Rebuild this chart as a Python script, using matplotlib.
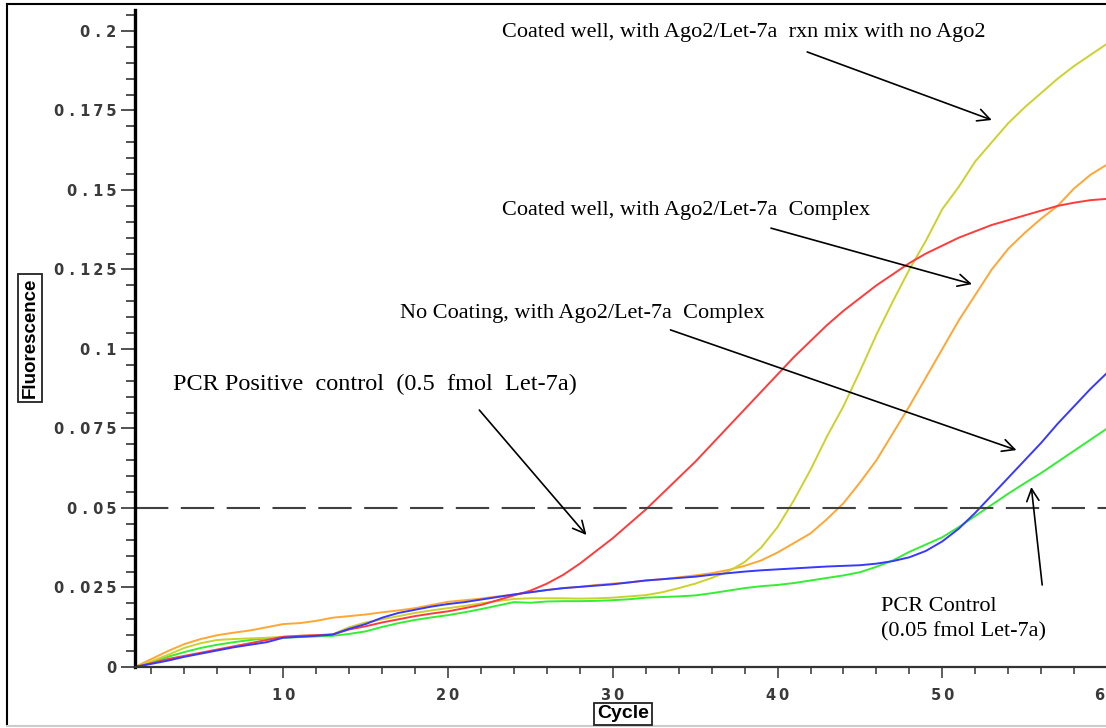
import matplotlib
matplotlib.use("Agg")
import matplotlib.pyplot as plt
from matplotlib.lines import Line2D
from matplotlib.ticker import FixedLocator, FuncFormatter
import numpy as np

cycles = np.arange(1, 61)

# PCR positive control (0.5 fmol Let-7a)
red = [0.0000, 0.0012, 0.0025, 0.0035, 0.0045, 0.0055, 0.0065, 0.0075, 0.0085, 0.0095,
       0.0098, 0.0100, 0.0102, 0.0118, 0.0128, 0.0140, 0.0150, 0.0160, 0.0168, 0.0175,
       0.0185, 0.0195, 0.0210, 0.0225, 0.0240, 0.0262, 0.0290, 0.0325, 0.0365, 0.0405,
       0.0450, 0.0495, 0.0545, 0.0595, 0.0645, 0.0700, 0.0755, 0.0810, 0.0865, 0.0920,
       0.0975, 0.1025, 0.1075, 0.1120, 0.1160, 0.1200, 0.1235, 0.1270, 0.1300, 0.1325,
       0.1350, 0.1370, 0.1390, 0.1405, 0.1420, 0.1435, 0.1450, 0.1460, 0.1468, 0.1472]

# coated well, rxn mix with no Ago2
yellow = [0.0000, 0.0018, 0.0038, 0.0060, 0.0075, 0.0085, 0.0088, 0.0090, 0.0092, 0.0095,
          0.0098, 0.0100, 0.0103, 0.0125, 0.0140, 0.0150, 0.0160, 0.0170, 0.0178, 0.0185,
          0.0192, 0.0200, 0.0207, 0.0214, 0.0216, 0.0216, 0.0216, 0.0215, 0.0216, 0.0218,
          0.0222, 0.0226, 0.0235, 0.0248, 0.0262, 0.0280, 0.0300, 0.0330, 0.0375, 0.0440,
          0.0525, 0.0620, 0.0725, 0.0820, 0.0930, 0.1045, 0.1150, 0.1250, 0.1340, 0.1440,
          0.1510, 0.1590, 0.1650, 0.1710, 0.1760, 0.1805, 0.1850, 0.1890, 0.1925, 0.1960]

# coated well, with Ago2/Let-7a complex
orange = [0.0000, 0.0025, 0.0050, 0.0072, 0.0088, 0.0100, 0.0108, 0.0115, 0.0125, 0.0135,
          0.0138, 0.0145, 0.0155, 0.0160, 0.0165, 0.0172, 0.0178, 0.0185, 0.0195, 0.0205,
          0.0210, 0.0215, 0.0222, 0.0228, 0.0235, 0.0242, 0.0248, 0.0252, 0.0258, 0.0262,
          0.0266, 0.0272, 0.0276, 0.0282, 0.0288, 0.0295, 0.0305, 0.0318, 0.0335, 0.0360,
          0.0390, 0.0420, 0.0465, 0.0515, 0.0580, 0.0650, 0.0735, 0.0820, 0.0910, 0.1000,
          0.1090, 0.1170, 0.1250, 0.1315, 0.1365, 0.1410, 0.1450, 0.1505, 0.1548, 0.1580]

# no coating, with Ago2/Let-7a complex
blue = [0.0000, 0.0010, 0.0020, 0.0032, 0.0042, 0.0052, 0.0062, 0.0070, 0.0078, 0.0092,
        0.0095, 0.0098, 0.0102, 0.0120, 0.0135, 0.0155, 0.0170, 0.0180, 0.0190, 0.0198,
        0.0204, 0.0212, 0.0220, 0.0228, 0.0235, 0.0242, 0.0248, 0.0252, 0.0256, 0.0260,
        0.0266, 0.0272, 0.0276, 0.0280, 0.0284, 0.0290, 0.0295, 0.0300, 0.0304, 0.0307,
        0.0310, 0.0313, 0.0316, 0.0318, 0.0320, 0.0325, 0.0333, 0.0345, 0.0365, 0.0395,
        0.0435, 0.0485, 0.0540, 0.0595, 0.0650, 0.0705, 0.0765, 0.0820, 0.0875, 0.0925]

# PCR control (0.05 fmol Let-7a)
green = [0.0000, 0.0015, 0.0032, 0.0047, 0.0060, 0.0070, 0.0078, 0.0085, 0.0090, 0.0092,
         0.0094, 0.0096, 0.0098, 0.0104, 0.0112, 0.0126, 0.0138, 0.0148, 0.0156, 0.0163,
         0.0172, 0.0182, 0.0193, 0.0204, 0.0202, 0.0206, 0.0207, 0.0207, 0.0208, 0.0210,
         0.0213, 0.0218, 0.0220, 0.0222, 0.0225, 0.0232, 0.0240, 0.0248, 0.0254, 0.0258,
         0.0264, 0.0272, 0.0280, 0.0288, 0.0298, 0.0315, 0.0335, 0.0362, 0.0385, 0.0408,
         0.0440, 0.0475, 0.0510, 0.0545, 0.0578, 0.0610, 0.0645, 0.0680, 0.0715, 0.0750]

threshold = 0.05
y_major = [0, 0.025, 0.05, 0.075, 0.1, 0.125, 0.15, 0.175, 0.2]
x_major = [10, 20, 30, 40, 50, 60]

serif = "Liberation Serif"

fig = plt.figure(figsize=(11.06, 7.28), dpi=100)
ax = fig.add_axes([0.122, 0.0838, 0.879, 0.9025])

ax.plot(cycles, green, color="#33ee33", lw=1.4)
ax.plot(cycles, orange, color="#ffa633", lw=1.4)
ax.plot(cycles, yellow, color="#ccd22c", lw=1.4)
ax.plot(cycles, red, color="#ff3b3b", lw=1.4)
ax.plot(cycles, blue, color="#3838ff", lw=1.4)
ax.axhline(threshold, color="#404040", lw=1.5, dashes=(16, 6))

ax.set_xlim(1, 60)
ax.set_ylim(0, 0.2066)

ax.spines["top"].set_visible(False)
ax.spines["right"].set_visible(False)
ax.spines["left"].set_linewidth(2.4)
ax.spines["bottom"].set_linewidth(1.6)
ax.spines["bottom"].set_color("#333333")

ax.yaxis.set_major_locator(FixedLocator(y_major))
ax.yaxis.set_minor_locator(FixedLocator(np.arange(0, 0.2066, 0.005)))
ax.xaxis.set_major_locator(FixedLocator(x_major))
ax.xaxis.set_minor_locator(FixedLocator(np.arange(2, 61, 2)))


def spaced(v, pos):
    # the instrument font is wide and letter-spaced
    s = f"{v:g}"
    s = "\u2009".join(s)
    return s.replace("\u2009.\u2009", " . ")


ax.yaxis.set_major_formatter(FuncFormatter(spaced))
ax.xaxis.set_major_formatter(FuncFormatter(spaced))

ax.tick_params(axis="y", which="major", length=10, width=1.1, pad=3.5, color="#222222")
ax.tick_params(axis="y", which="minor", length=6.5, width=1.1, color="#222222")
ax.tick_params(axis="x", which="major", length=8, width=1.1, pad=7, color="#333333")
ax.tick_params(axis="x", which="minor", length=5, width=1.1, color="#333333")
for lab in ax.get_xticklabels() + ax.get_yticklabels():
    lab.set_fontfamily("DejaVu Sans")
    lab.set_fontsize(10.5)
    lab.set_fontweight("bold")
    lab.set_color("#3a3a3a")

arrow = dict(arrowstyle="->", lw=1.2, color="black", mutation_scale=22, shrinkA=0, shrinkB=0)

ax.text(23.3, 0.1994, "Coated well, with Ago2/Let-7a  rxn mix with no Ago2",
        family=serif, fontsize=16, va="center", ha="left")
ax.annotate("", xy=(53.0, 0.172), xytext=(41.8, 0.1934), arrowprops=arrow)

ax.text(23.3, 0.1437, "Coated well, with Ago2/Let-7a  Complex",
        family=serif, fontsize=16, va="center", ha="left")
ax.annotate("", xy=(51.8, 0.1204), xytext=(39.6, 0.138), arrowprops=arrow)

ax.text(17.1, 0.1113, "No Coating, with Ago2/Let-7a  Complex",
        family=serif, fontsize=16, va="center", ha="left")
ax.annotate("", xy=(54.5, 0.0682), xytext=(33.5, 0.106), arrowprops=arrow)

ax.text(3.3, 0.0887, "PCR Positive  control  (0.5  fmol  Let-7a)",
        family=serif, fontsize=17.5, va="center", ha="left")
ax.annotate("", xy=(28.4, 0.0415), xytext=(21.9, 0.0808), arrowprops=arrow)

ax.text(46.3, 0.0151, "PCR Control\n(0.05 fmol Let-7a)",
        family=serif, fontsize=16, va="center", ha="left", linespacing=1.4)
ax.annotate("", xy=(55.4, 0.0566), xytext=(56.06, 0.0258), arrowprops=arrow)

box = dict(boxstyle="square,pad=0.18", fc="white", ec="#222222", lw=1.3)
fig.text(30 / 1106, (728 - 338) / 728, "Fluorescence", rotation=90, family="Liberation Sans",
         fontsize=13.5, fontweight="bold", ha="center", va="center", bbox=box)
fig.text(623 / 1106, (728 - 714) / 728, "Cycle", family="Liberation Sans",
         fontsize=14, fontweight="bold", ha="center", va="center",
         bbox=dict(boxstyle="square,pad=0.14", fc="white", ec="#222222", lw=1.3))

# outer frame of the screenshot
fig.add_artist(Line2D([7 / 1106, 7 / 1106], [0.004, 0.9945], color="black", lw=1.5))
fig.add_artist(Line2D([7 / 1106, 1.0], [0.9945, 0.9945], color="black", lw=1.5))
fig.add_artist(Line2D([7 / 1106, 1.0], [0.003, 0.003], color="#cccccc", lw=1.5))

fig.savefig("out.png", dpi=100)
